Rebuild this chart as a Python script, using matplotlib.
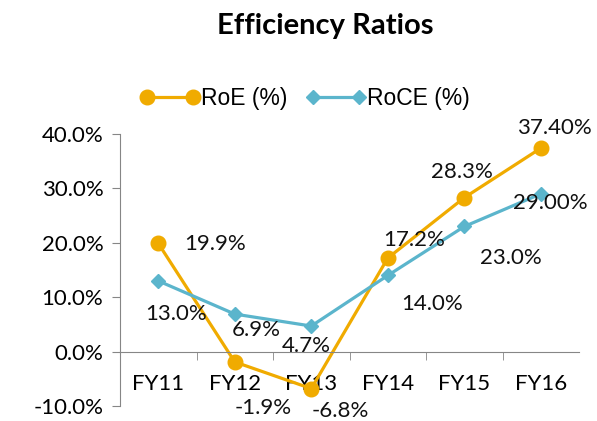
import matplotlib
matplotlib.use('Agg')
import matplotlib.pyplot as plt

plt.rcParams['font.family'] = ['Lato', 'DejaVu Sans']

# data
anos = ['FY11', 'FY12', 'FY13', 'FY14', 'FY15', 'FY16']
roe = [19.9, -1.9, -6.8, 17.2, 28.3, 37.4]
roce = [13.0, 6.9, 4.7, 14.0, 23.0, 29.0]
roe_txt = ['19.9%', '-1.9%', '-6.8%', '17.2%', '28.3%', '37.40%']
roce_txt = ['13.0%', '6.9%', '4.7%', '14.0%', '23.0%', '29.00%']

# label offsets (pixels)
roe_off = [(57, -1), (28, -46), (29, -22), (26, 18), (-2, 26), (14, 20)]
roce_off = [(18, -33), (21, -16), (-5, -20), (44, -29), (47, -32), (9, -9)]

cor_roe = '#F0AB00'
cor_roce = '#5BB5CC'

fig = plt.figure(figsize=(5.97, 4.21), dpi=100)
ax = fig.add_axes([0.201, 0.0356, 0.769, 0.6461])

x = range(len(anos))
ax.plot(x, roe, color=cor_roe, lw=2.3, marker='o', ms=10.5, label='RoE (%)')
ax.plot(x, roce, color=cor_roce, lw=2.3, marker='D', ms=7, label='RoCE (%)')

for i in x:
    ax.annotate(roe_txt[i], (i, roe[i]), xytext=roe_off[i], textcoords='offset pixels',
                ha='center', va='center', fontsize=16, color='#111111')
    ax.annotate(roce_txt[i], (i, roce[i]), xytext=roce_off[i], textcoords='offset pixels',
                ha='center', va='center', fontsize=16, color='#111111')

ax.set_xlim(-0.5, len(anos) - 0.5)
ax.set_ylim(-10, 40)
ax.set_yticks([-10, 0, 10, 20, 30, 40])
ax.set_yticklabels(['%.1f%%' % v for v in [-10, 0, 10, 20, 30, 40]])

ax.set_xticks(list(x))
ax.set_xticklabels(anos)
ax.set_xticks([i + 0.5 for i in range(len(anos) - 1)], minor=True)
ax.tick_params(axis='x', which='major', length=0, pad=16, labelsize=16)
ax.tick_params(axis='x', which='minor', length=6, color='#868686')
ax.tick_params(axis='y', length=6, color='#868686', pad=6, labelsize=16)

ax.spines['top'].set_visible(False)
ax.spines['right'].set_visible(False)
ax.spines['bottom'].set_position(('data', 0))
ax.spines['bottom'].set_color('#868686')
ax.spines['left'].set_color('#868686')

fig.text(0.545, 0.938, 'Efficiency Ratios', ha='center', va='center',
         fontsize=21, fontweight='bold')

ax.legend(loc='center left', bbox_to_anchor=(0.22, 0.767), bbox_transform=fig.transFigure,
          ncol=2, frameon=False, numpoints=2, handlelength=2.6, handletextpad=0.05,
          columnspacing=0.8, borderaxespad=0,
          prop={'family': 'Liberation Sans', 'size': 16.5})

fig.savefig('out.png', dpi=100)
